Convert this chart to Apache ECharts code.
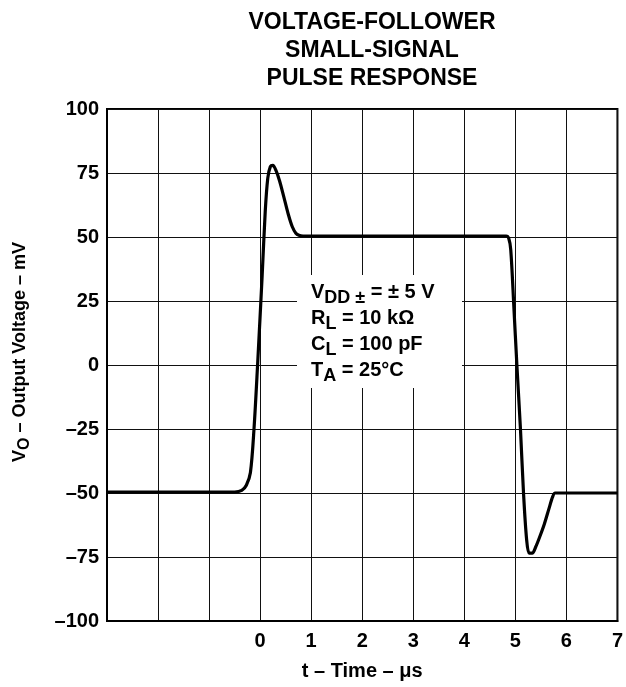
<!DOCTYPE html>
<html>
<head>
<meta charset="utf-8">
<script src="https://cdn.jsdelivr.net/npm/echarts@6/dist/echarts.min.js"></script>
<style>
html,body{margin:0;padding:0;background:#fff;}
#c{width:626px;height:687px;}
</style>
</head>
<body>
<div id="c"></div>
<script>
var titleLines = ['VOLTAGE-FOLLOWER', 'SMALL-SIGNAL', 'PULSE RESPONSE'];
var xTicks = [0, 1, 2, 3, 4, 5, 6, 7];
var yTicks = [-100, -75, -50, -25, 0, 25, 50, 75, 100];
var timeUs = [-3, -0.5, -0.36, -0.27, -0.19, -0.12, -0.05, 0.04, 0.1, 0.15, 0.2, 0.25, 0.31, 0.38, 0.46, 0.55, 0.63, 0.7, 0.76, 0.84, 2, 4.82, 4.87, 4.91, 4.97, 5.03, 5.1, 5.16, 5.22, 5.27, 5.33, 5.4, 5.48, 5.57, 5.66, 5.73, 5.78, 7];
var voltMv = [-49.6, -49.6, -49, -47, -42, -25, 0, 35, 60, 73, 77.5, 78, 76, 72, 66, 59, 54, 51.5, 50.7, 50.4, 50.4, 50.4, 49.5, 45, 23, 0, -25, -50, -68, -73.5, -73.5, -71, -67, -62, -56, -51.5, -50, -50];

var FONT = '"Liberation Sans", Arial, sans-serif';
var chart = echarts.init(document.getElementById('c'));

var data = timeUs.map(function (t, i) { return [t, voltMv[i]]; });

chart.setOption({
  animation: false,
  backgroundColor: '#fff',
  grid: {
    left: 107, right: 7, top: 109, bottom: 66,
    show: true, borderColor: '#000', borderWidth: 2, backgroundColor: 'transparent'
  },
  title: {
    text: titleLines.join('\n'),
    left: 367, top: 4, textAlign: 'center',
    textStyle: { fontFamily: FONT, fontWeight: 'bold', fontSize: 23, lineHeight: 28, color: '#000' }
  },
  xAxis: {
    type: 'value', min: -3, max: 7, interval: 1,
    axisLine: { show: true, onZero: false, lineStyle: { color: '#000', width: 2 } },
    axisTick: { show: false },
    splitLine: { show: true, lineStyle: { color: '#111', width: 1 } },
    axisLabel: {
      margin: 10, color: '#000', fontFamily: FONT, fontWeight: 'bold', fontSize: 20,
      showMaxLabel: true, showMinLabel: true,
      formatter: function (v) { return xTicks.indexOf(v) >= 0 ? String(v) : ''; }
    },
    name: 't – Time – μs', nameLocation: 'middle', nameGap: 40,
    nameTextStyle: { color: '#000', fontFamily: FONT, fontWeight: 'bold', fontSize: 20 }
  },
  yAxis: {
    type: 'value', min: -100, max: 100, interval: 25,
    axisLine: { show: true, onZero: false, lineStyle: { color: '#000', width: 2 } },
    axisTick: { show: false },
    splitLine: { show: true, lineStyle: { color: '#111', width: 1 } },
    axisLabel: {
      margin: 8, color: '#000', fontFamily: FONT, fontWeight: 'bold', fontSize: 20,
      formatter: function (v) { return yTicks.indexOf(v) >= 0 ? String(v).replace('-', '–') : ''; }
    }
  },
  graphic: [{
    type: 'rect', z: 90,
    shape: { x: 297, y: 275, width: 165, height: 113 },
    style: { fill: '#fff' }
  }, {
    type: 'text', left: 311, top: 278, z: 100,
    style: {
      text: '{a|V}{s|DD ±}{a| = ± 5 V}\n{a|R}{s|L}{a| = 10 kΩ}\n{a|C}{s|L}{a| = 100 pF}\n{a|T}{s|A}{a| = 25°C}',
      fill: '#000',
      rich: {
        a: { fontFamily: FONT, fontWeight: 'bold', fontSize: 20, fill: '#000', lineHeight: 26 },
        s: { fontFamily: FONT, fontWeight: 'bold', fontSize: 18, fill: '#000', lineHeight: 26, padding: [11, 0, 0, 0] }
      }
    }
  }, {
    type: 'text', z: 100, x: 20, y: 352, rotation: Math.PI / 2,
    style: {
      text: '{v|V}{s|O}{t| – Output Voltage – mV}',
      align: 'center', verticalAlign: 'middle', fill: '#000',
      rich: {
        v: { fontFamily: FONT, fontWeight: 'bold', fontSize: 18, fill: '#000' },
        s: { fontFamily: FONT, fontWeight: 'bold', fontSize: 16, fill: '#000', padding: [10, 0, 0, 0] },
        t: { fontFamily: FONT, fontWeight: 'bold', fontSize: 18, fill: '#000' }
      }
    }
  }],
  series: [{
    type: 'line', data: data, smooth: 0.3, showSymbol: false,
    lineStyle: { color: '#000', width: 3.2 }
  }]
});
</script>
</body>
</html>
